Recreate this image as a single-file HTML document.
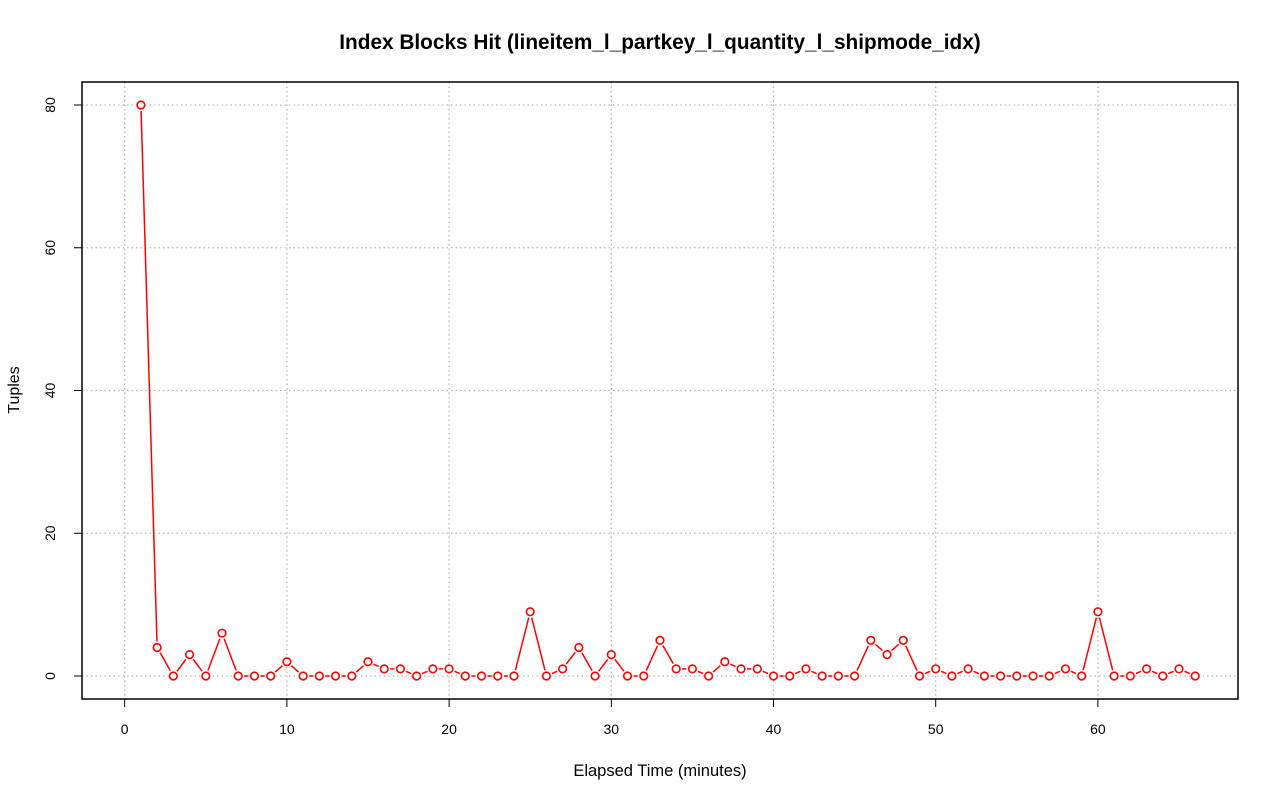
<!DOCTYPE html>
<html><head><meta charset="utf-8"><style>body{margin:0;background:#fff}svg{display:block;font-family:"Liberation Sans",sans-serif}</style></head>
<body>
<svg id="chart" width="1280" height="801">
<text x="660" y="49" text-anchor="middle" font-size="20.8" font-weight="bold">Index Blocks Hit (lineitem_l_partkey_l_quantity_l_shipmode_idx)</text>
<text x="660" y="776" text-anchor="middle" font-size="16.5">Elapsed Time (minutes)</text>
<text x="19" y="390" text-anchor="middle" font-size="16" transform="rotate(-90 19 390)">Tuples</text>
<g id="grid"></g><g id="axes"></g><g id="series"></g>
<rect x="82" y="82" width="1156" height="617" fill="none" stroke="#000" stroke-width="1.5"/>
</svg>
<script>
const xTicks=[0,10,20,30,40,50,60];
const yTicks=[0,20,40,60,80];
const minutes=[];for(let i=1;i<=66;i++)minutes.push(i);
const tuples=[80,4,0,3,0,6,0,0,0,2,0,0,0,0,2,1,1,0,1,1,0,0,0,0,9,0,1,4,0,3,0,0,5,1,1,0,2,1,1,0,0,1,0,0,0,5,3,5,0,1,0,1,0,0,0,0,0,1,0,9,0,0,1,0,1,0];
const NS="http://www.w3.org/2000/svg";
const X=v=>124.7+v*16.22, Y=v=>676-v*7.1375;
function mk(t,a,p){const e=document.createElementNS(NS,t);for(const k in a)e.setAttribute(k,a[k]);p.appendChild(e);return e;}
const grid=document.getElementById('grid'),axes=document.getElementById('axes'),ser=document.getElementById('series');
xTicks.forEach(v=>{
 const g=mk('line',{x1:X(v),x2:X(v),y1:82,y2:699,stroke:'#b8b8b8','stroke-width':1.3,'stroke-dasharray':'1.5,3'},grid);
 
 
 const t=mk('line',{x1:X(v),x2:X(v),y1:699,y2:707,stroke:'#000'},axes);
 
 
 const l=mk('text',{x:X(v),y:734,'text-anchor':'middle','font-size':14},axes);l.textContent=v;
 
 
});
mk('line',{x1:X(0),x2:X(60),y1:699,y2:699,stroke:'#000'},axes);
yTicks.forEach(v=>{
 const g=mk('line',{x1:82,x2:1238,y1:Y(v),y2:Y(v),stroke:'#b8b8b8','stroke-width':1.3,'stroke-dasharray':'1.5,3'},grid);
 
 
 const t=mk('line',{x1:74,x2:82,y1:Y(v),y2:Y(v),stroke:'#000'},axes);
 
 
 const l=mk('text',{x:55,y:Y(v),'text-anchor':'middle','font-size':14,transform:`rotate(-90 55 ${Y(v)})`},axes);l.textContent=v;
 
 
});
mk('line',{x1:82,x2:82,y1:Y(0),y2:Y(80),stroke:'#000'},axes);
for(let i=0;i<tuples.length-1;i++){
 const x1=X(minutes[i]),y1=Y(tuples[i]),x2=X(minutes[i+1]),y2=Y(tuples[i+1]);
 const d=Math.hypot(x2-x1,y2-y1),g=6;
 if(d>2*g){const ux=(x2-x1)/d,uy=(y2-y1)/d;
  const s=mk('line',{x1:x1+ux*g,y1:y1+uy*g,x2:x2-ux*g,y2:y2-uy*g,stroke:'#f00','stroke-width':1.5},ser);
  
  }
}
tuples.forEach((v,i)=>{
 const c=mk('circle',{cx:X(minutes[i]),cy:Y(v),r:3.8,fill:'#fff',stroke:'#f00','stroke-width':1.6},ser);
 
 
});
</script>
</body></html>
